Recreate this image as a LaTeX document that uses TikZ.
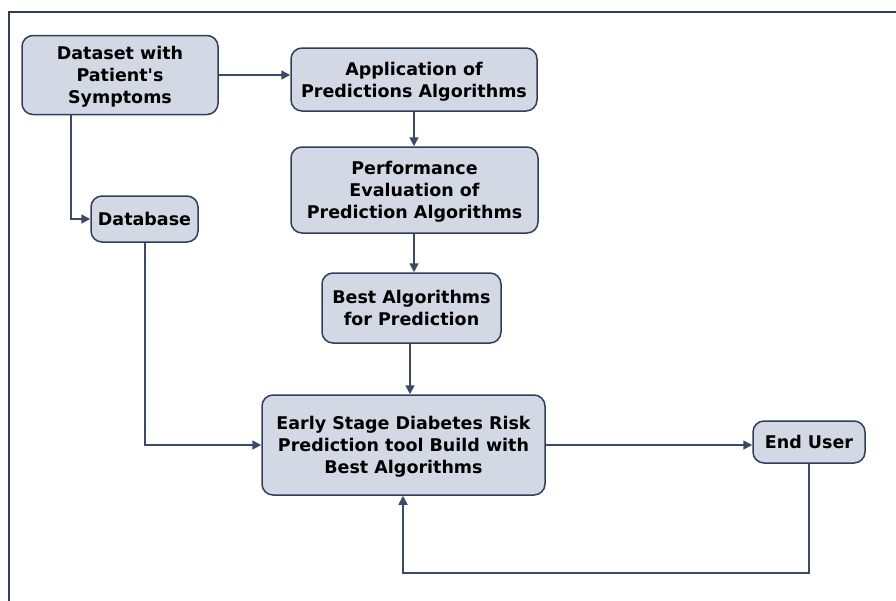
\documentclass[tikz,border=0pt]{standalone}
\usepackage{fontspec}
\setmainfont{DejaVu Sans}[Ligatures=TeXOff]
\usetikzlibrary{arrows.meta}
\definecolor{boxfill}{HTML}{D3D9E4}
\definecolor{boxline}{HTML}{2F3E5C}
\definecolor{conn}{HTML}{3B4A68}
\tikzset{
  box/.style={draw=boxline, line width=1.5pt, fill=boxfill, rounded corners=11pt,
    align=center, font=\bfseries\fontsize{17.5}{22}\selectfont, inner sep=0pt, text depth=0pt},
  conn/.style={draw=conn, line width=1.7pt, -{Triangle[length=9pt,width=9pt]}},
}
\begin{document}
\begin{tikzpicture}[x=1pt,y=-1pt]
\useasboundingbox (0,0) rectangle (896,600);
\draw[boxline, line width=2pt] (9,610) -- (9,12) -- (906,12);
\node[box, minimum width=196pt, minimum height=79pt] (ds) at (120,75) {Dataset with\\Patient's\\Symptoms};
\node[box, minimum width=246pt, minimum height=63pt] (app) at (414,79.5) {Application of\\Predictions Algorithms};
\node[box, minimum width=247pt, minimum height=86pt] (perf) at (414.5,190) {Performance\\Evaluation of\\Prediction Algorithms};
\node[box, minimum width=107pt, minimum height=46pt] (db) at (144.5,219) {Database};
\node[box, minimum width=179pt, minimum height=70pt] (best) at (411.5,308) {Best Algorithms\\for Prediction};
\node[box, minimum width=283pt, minimum height=100pt] (early) at (403.5,445) {Early Stage Diabetes Risk\\Prediction tool Build with\\Best Algorithms};
\node[box, minimum width=112pt, minimum height=42pt] (eu) at (809,442) {End User};
\coordinate (c1) at (71,219);
\coordinate (c2) at (145,445);
\coordinate (c3) at (809,573);
\coordinate (c4) at (403,573);
\draw[conn] (ds.east |- 0,75) -- (app.west |- 0,75);
\draw[conn] (app.south -| 414,0) -- (perf.north -| 414,0);
\draw[conn] (ds.south -| c1) -- (c1) -- (db.west);
\draw[conn] (perf.south -| 414,0) -- (best.north -| 414,0);
\draw[conn] (best.south -| 410,0) -- (early.north -| 410,0);
\draw[conn] (db.south -| c2) -- (c2) -- (early.west |- c2);
\draw[conn] (early.east |- 0,445) -- (eu.west |- 0,445);
\draw[conn] (eu.south) -- (c3) -- (c4) -- (early.south -| c4);
\end{tikzpicture}
\end{document}
